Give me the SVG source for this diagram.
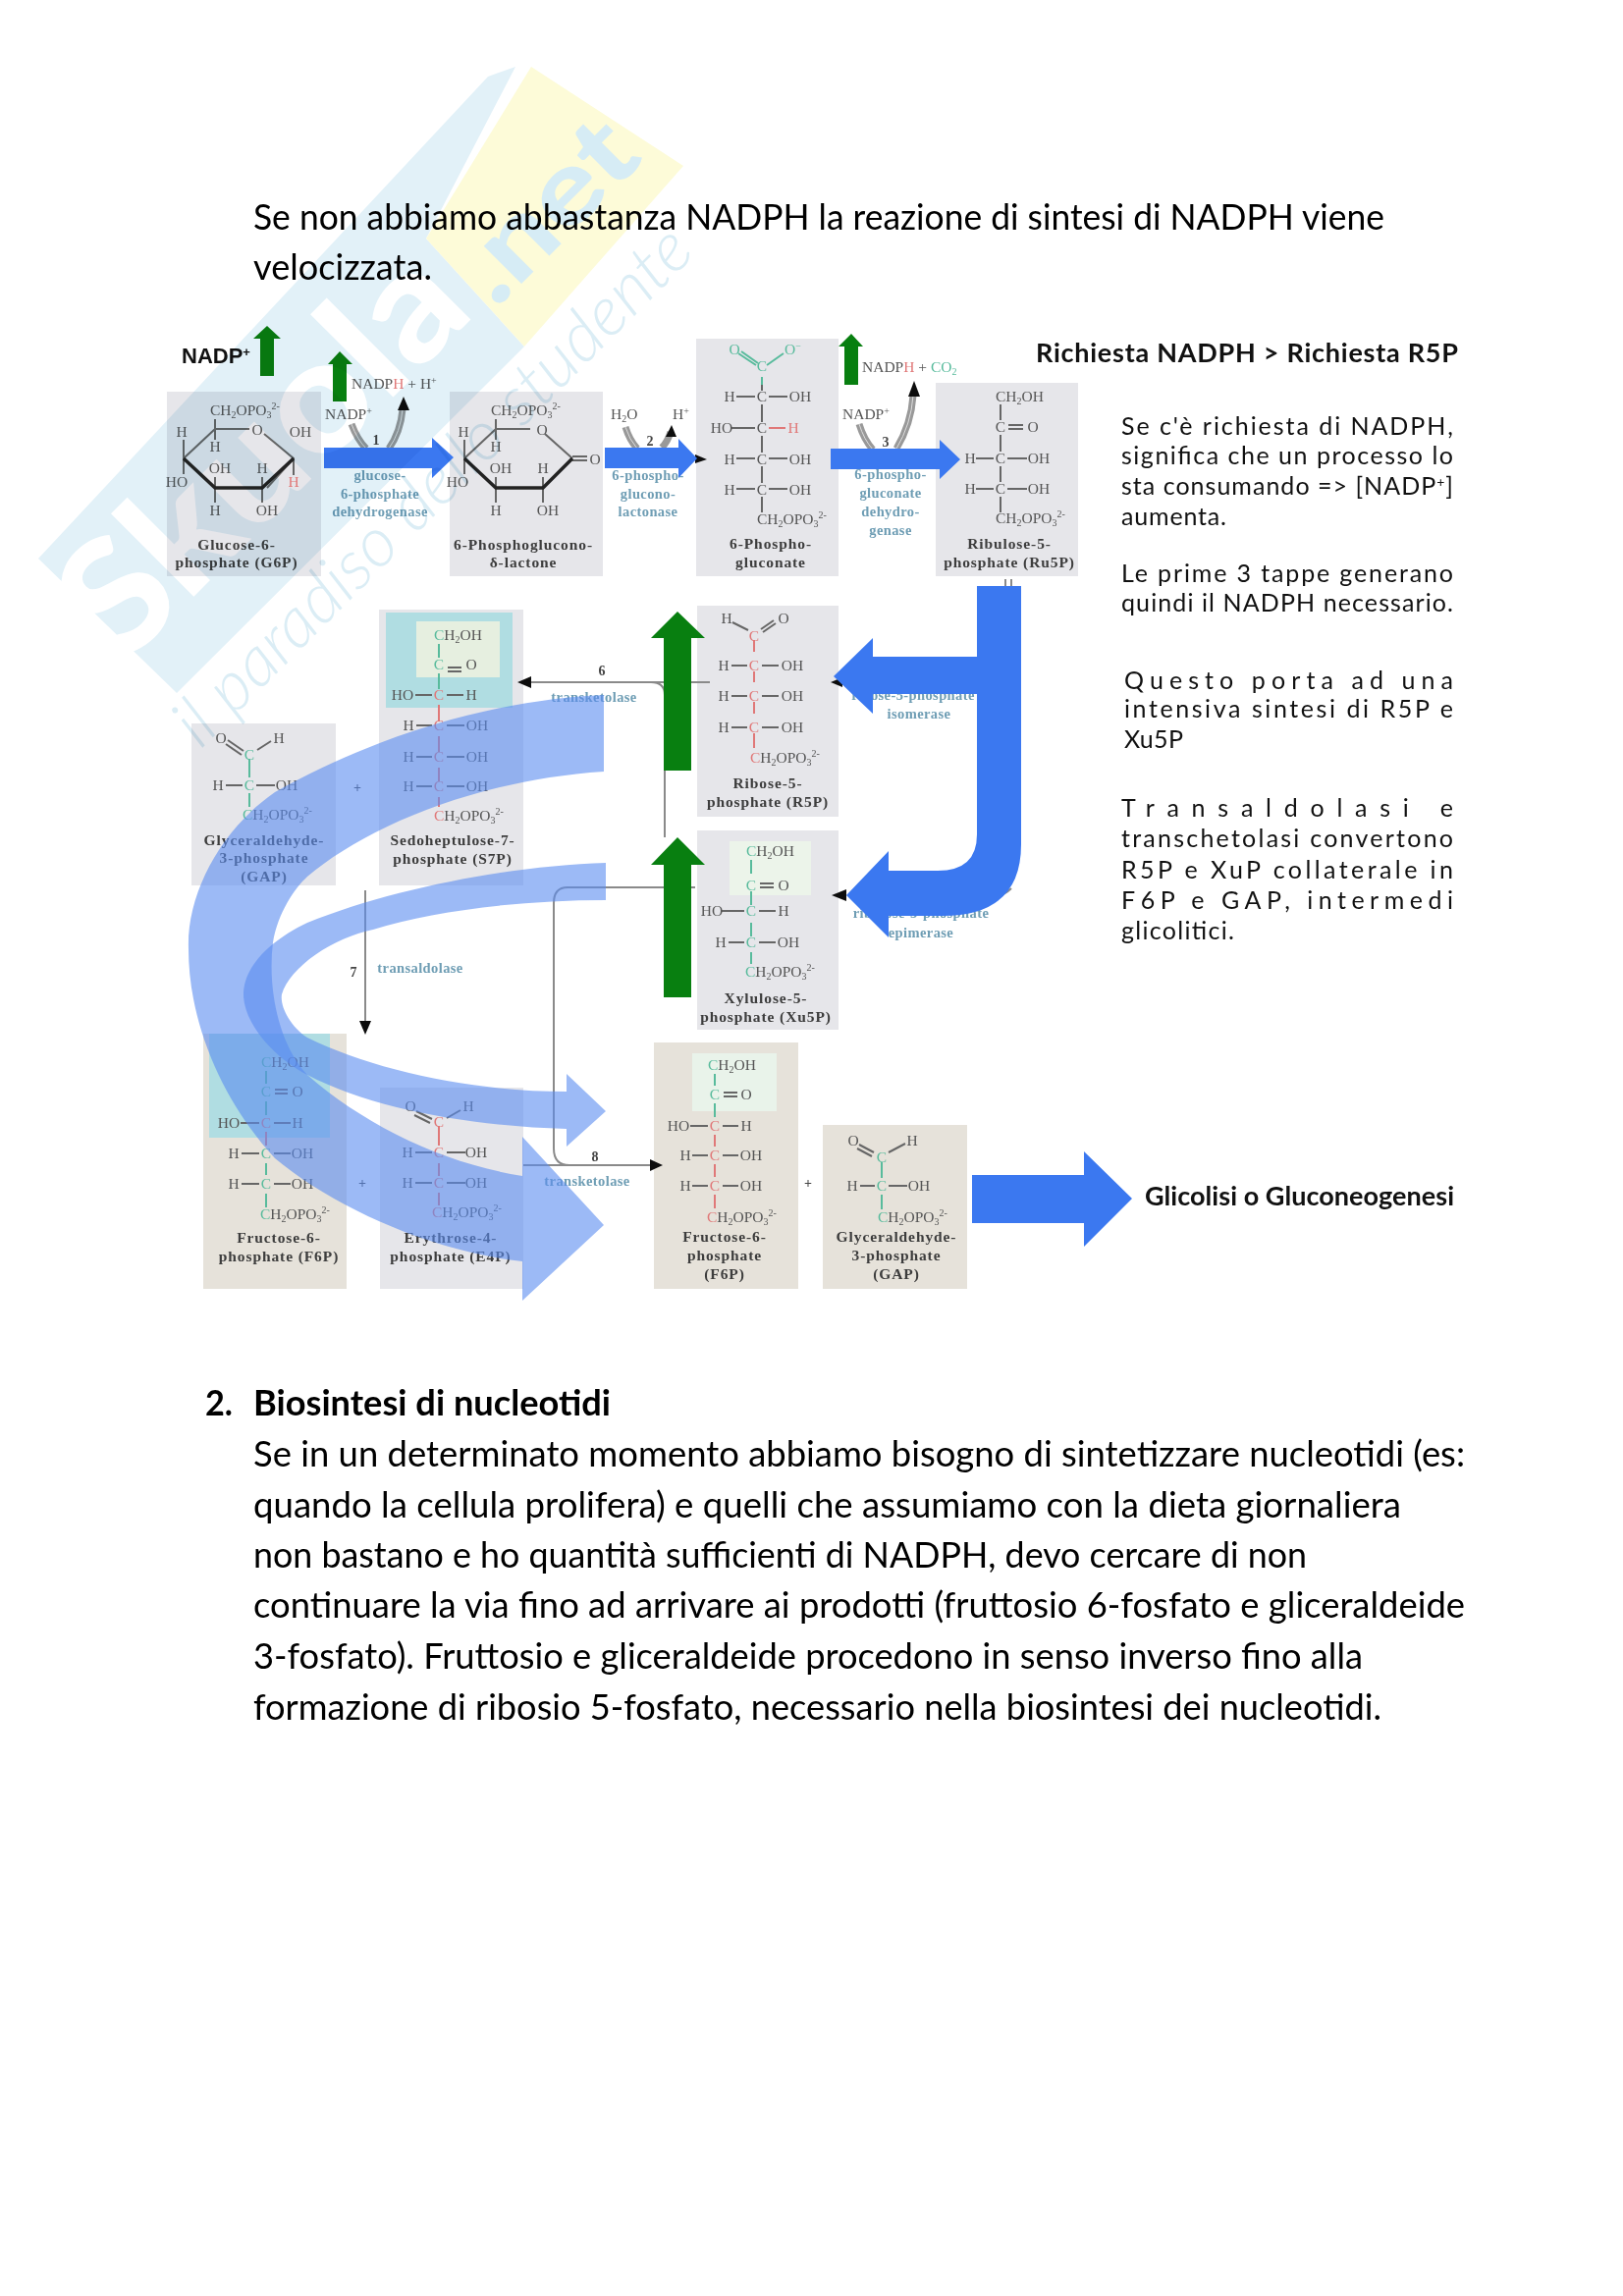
<svg xmlns="http://www.w3.org/2000/svg" width="1653" height="2339" viewBox="0 0 1653 2339">
<style>
text{font-family:"Liberation Serif",serif;fill:#555;font-size:15.5px}
.m{text-anchor:middle}
.n{text-anchor:middle;font-weight:700;fill:#3c3c3c;font-size:15.5px;letter-spacing:.9px}
.e{text-anchor:middle;fill:#6e9db4;font-size:14.5px;letter-spacing:.4px;font-weight:700}
.r{fill:#e07878}.g{fill:#58bb9c}
.num{text-anchor:middle;font-weight:700;fill:#444;font-size:14px}
.b{font-family:Lato,sans-serif;font-size:36px;fill:#000}
.bb{font-weight:700}
.t{font-family:Lato,"DejaVu Sans",sans-serif;font-size:25px;fill:#111}
.th{font-family:Lato,"DejaVu Sans",sans-serif;font-size:27px;font-weight:700;fill:#111}
.s{font-size:10px}
.box{fill:#e6e6ea}.bg{fill:#e6e2da}
.k{stroke:#666;stroke-width:2;fill:none}
.kg{stroke:#58bb9c;stroke-width:2;fill:none}
.kr{stroke:#e07878;stroke-width:2;fill:none}
.blue{fill:#3b78f0}
.green{fill:#087f10}
.arc{fill:#5a8cf0;fill-opacity:.6}
.ln{stroke:#8a8a8a;stroke-width:2;fill:none}
.tip{fill:#111}
.hat{stroke:#999;stroke-width:7;fill:none}
.hat2{stroke:#ddd;stroke-width:1;fill:none}
</style>
<defs><filter id="bl" x="-5%" y="-5%" width="110%" height="110%"><feGaussianBlur stdDeviation=".45"/></filter></defs>
<rect width="1653" height="2339" fill="#fff"/>

<g id="chem" filter="url(#bl)">
<g id="G6P">
<rect class="box" x="170" y="399" width="157" height="188"/>
<text x="214" y="423">CH<tspan class="s" dy="3">2</tspan><tspan dy="-3">OPO</tspan><tspan class="s" dy="3">3</tspan><tspan class="s" dy="-9">2-</tspan></text>
<path class="k" d="M219 427V437H254M269 442L299 467V484M299 467L272 497M219 437L187 467V483M187 467V448M219 437V448M219 497V512M267 497V512M267 486V497M219 486V497"/>
<path d="M187 467L219 497H267L299 467" stroke="#222" stroke-width="3.5" fill="none"/>
<text class="m" x="185" y="445">H</text><text class="m" x="219" y="460">H</text><text class="m" x="262" y="443">O</text><text class="m" x="306" y="445">OH</text>
<text class="m" x="224" y="482">OH</text><text class="m" x="267" y="482">H</text><text class="m" x="180" y="496">HO</text><text class="m r" x="299" y="496">H</text>
<text class="m" x="219" y="525">H</text><text class="m" x="272" y="525">OH</text>
<text class="n" x="241" y="560">Glucose-6-</text><text class="n" x="241" y="578">phosphate (G6P)</text>
</g>
<g id="lactone">
<rect class="box" x="458" y="399" width="156" height="188"/>
<text x="500" y="423">CH<tspan class="s" dy="3">2</tspan><tspan dy="-3">OPO</tspan><tspan class="s" dy="3">3</tspan><tspan class="s" dy="-9">2-</tspan></text>
<path class="k" d="M505 427V437H540M555 442L583 467M505 437L473 467V483M473 467V448M505 437V448M505 497V512M553 497V512M553 486V497M505 486V497M583 465H598M583 469H598"/>
<path d="M473 467L505 497H553L583 467" stroke="#222" stroke-width="3.5" fill="none"/>
<text class="m" x="472" y="445">H</text><text class="m" x="505" y="460">H</text><text class="m" x="552" y="443">O</text><text class="m" x="606" y="473">O</text>
<text class="m" x="510" y="482">OH</text><text class="m" x="553" y="482">H</text><text class="m" x="466" y="496">HO</text>
<text class="m" x="505" y="525">H</text><text class="m" x="558" y="525">OH</text>
<text class="n" x="533" y="560">6-Phosphoglucono-</text><text class="n" x="533" y="578">δ-lactone</text>
</g>
<g id="PG6">
<rect class="box" x="709" y="345" width="145" height="242"/>
<path class="kg" d="M776 384V392M752 360L770 372M781 372L798 360M755 358L772 370"/>
<path class="k" d="M776 392V398M776 412V430M776 444V461M776 475V492M776 506V522M750 404H769M783 404H802M745 436H769M750 467H769M783 467H802M750 498H769M783 498H802"/>
<path class="kr" d="M783 436H800"/>
<text class="m g" x="748" y="361">O</text><text class="g" x="799" y="361">O<tspan class="s" dy="-5">−</tspan></text><text class="m g" x="776" y="378">C</text>
<text class="m" x="743" y="409">H</text><text class="m" x="776" y="409">C</text><text class="m" x="815" y="409">OH</text>
<text class="m" x="735" y="441">HO</text><text class="m" x="776" y="441">C</text><text class="m r" x="808" y="441">H</text>
<text class="m" x="743" y="473">H</text><text class="m" x="776" y="473">C</text><text class="m" x="815" y="473">OH</text>
<text class="m" x="743" y="504">H</text><text class="m" x="776" y="504">C</text><text class="m" x="815" y="504">OH</text>
<text x="771" y="534">CH<tspan class="s" dy="3">2</tspan><tspan dy="-3">OPO</tspan><tspan class="s" dy="3">3</tspan><tspan class="s" dy="-9">2-</tspan></text>
<text class="n" x="785" y="559">6-Phospho-</text><text class="n" x="785" y="578">gluconate</text>
</g>
<g id="Ru5P">
<rect class="box" x="953" y="390" width="145" height="197"/>
<path class="k" d="M1019 412V428M1019 443V460M1019 475V491M1019 506V522M1027 433H1042M1027 437H1042M994 467H1012M1026 467H1046M994 498H1012M1026 498H1046"/>
<text x="1014" y="409">CH<tspan class="s" dy="3">2</tspan><tspan dy="-3">OH</tspan></text>
<text class="m" x="1019" y="440">C</text><text class="m" x="1052" y="440">O</text>
<text class="m" x="988" y="472">H</text><text class="m" x="1019" y="472">C</text><text class="m" x="1058" y="472">OH</text>
<text class="m" x="988" y="503">H</text><text class="m" x="1019" y="503">C</text><text class="m" x="1058" y="503">OH</text>
<text x="1014" y="533">CH<tspan class="s" dy="3">2</tspan><tspan dy="-3">OPO</tspan><tspan class="s" dy="3">3</tspan><tspan class="s" dy="-9">2-</tspan></text>
<text class="n" x="1028" y="559">Ribulose-5-</text><text class="n" x="1028" y="578">phosphate (Ru5P)</text>
</g>
<g id="R5P">
<rect class="box" x="710" y="617" width="144" height="215"/>
<path class="k" d="M746 634L762 642M775 641L788 632M777 644L790 635M745 678H761M776 678H793M745 709H761M776 709H793M745 741H761M776 741H793"/>
<path class="kr" d="M768 652V664M768 684V695M768 715V727M768 747V762"/>
<text class="m" x="740" y="635">H</text><text class="m" x="798" y="635">O</text><text class="m r" x="768" y="653">C</text>
<text class="m" x="737" y="683">H</text><text class="m r" x="768" y="683">C</text><text class="m" x="807" y="683">OH</text>
<text class="m" x="737" y="714">H</text><text class="m r" x="768" y="714">C</text><text class="m" x="807" y="714">OH</text>
<text class="m" x="737" y="746">H</text><text class="m r" x="768" y="746">C</text><text class="m" x="807" y="746">OH</text>
<text x="764" y="777"><tspan class="r">C</tspan>H<tspan class="s" dy="3">2</tspan><tspan dy="-3">OPO</tspan><tspan class="s" dy="3">3</tspan><tspan class="s" dy="-9">2-</tspan></text>
<text class="n" x="782" y="803">Ribose-5-</text><text class="n" x="782" y="822">phosphate (R5P)</text>
</g>
<g id="Xu5P">
<rect class="box" x="710" y="846" width="144" height="203"/>
<rect x="743" y="857" width="83" height="55" fill="#ecf4ea"/>
<path class="kg" d="M765 876V890M765 908V922M765 940V954M765 970V982"/>
<path class="k" d="M774 900H788M774 904H788M735 928H758M773 928H790M742 960H758M773 960H790"/>
<text x="760" y="872"><tspan class="g">C</tspan>H<tspan class="s" dy="3">2</tspan><tspan dy="-3">OH</tspan></text>
<text class="m g" x="765" y="907">C</text><text class="m" x="798" y="907">O</text>
<text class="m" x="725" y="933">HO</text><text class="m g" x="765" y="933">C</text><text class="m" x="798" y="933">H</text>
<text class="m" x="734" y="965">H</text><text class="m g" x="765" y="965">C</text><text class="m" x="803" y="965">OH</text>
<text x="759" y="995"><tspan class="g">C</tspan>H<tspan class="s" dy="3">2</tspan><tspan dy="-3">OPO</tspan><tspan class="s" dy="3">3</tspan><tspan class="s" dy="-9">2-</tspan></text>
<text class="n" x="780" y="1022">Xylulose-5-</text><text class="n" x="780" y="1041">phosphate (Xu5P)</text>
</g>
<g id="S7P">
<rect class="box" x="386" y="621" width="147" height="281"/>
<rect x="393" y="624" width="129" height="97" fill="#b0dde2"/>
<rect x="424" y="633" width="85" height="57" fill="#e6efe0"/>
<path class="kg" d="M447 656V670M447 686V702"/>
<path class="kr" d="M447 718V735M447 750V766M447 782V796M447 812V822"/>
<path class="k" d="M456 680H470M456 684H470M423 708H440M455 708H472M424 739H440M455 739H473M424 771H440M455 771H473M424 801H440M455 801H473"/>
<text x="442" y="652"><tspan class="g">C</tspan>H<tspan class="s" dy="3">2</tspan><tspan dy="-3">OH</tspan></text>
<text class="m g" x="447" y="682">C</text><text class="m" x="480" y="682">O</text>
<text class="m" x="410" y="713">HO</text><text class="m r" x="447" y="713">C</text><text class="m" x="480" y="713">H</text>
<text class="m" x="416" y="744">H</text><text class="m r" x="447" y="744">C</text><text class="m" x="486" y="744">OH</text>
<text class="m" x="416" y="776">H</text><text class="m r" x="447" y="776">C</text><text class="m" x="486" y="776">OH</text>
<text class="m" x="416" y="806">H</text><text class="m r" x="447" y="806">C</text><text class="m" x="486" y="806">OH</text>
<text x="442" y="836"><tspan class="r">C</tspan>H<tspan class="s" dy="3">2</tspan><tspan dy="-3">OPO</tspan><tspan class="s" dy="3">3</tspan><tspan class="s" dy="-9">2-</tspan></text>
<text class="n" x="461" y="861">Sedoheptulose-7-</text><text class="n" x="461" y="880">phosphate (S7P)</text>
</g>
<g id="GAP-top">
<rect class="box" x="195" y="737" width="147" height="165"/>
<path class="kg" d="M254 773V792M254 808V822"/>
<path class="k" d="M232 754L248 765M230 758L246 769M262 764L276 755M230 800H247M261 800H280"/>
<text class="m" x="225" y="757">O</text><text class="m" x="284" y="757">H</text><text class="m g" x="254" y="774">C</text>
<text class="m" x="222" y="805">H</text><text class="m g" x="254" y="805">C</text><text class="m" x="292" y="805">OH</text>
<text x="247" y="835"><tspan class="g">C</tspan>H<tspan class="s" dy="3">2</tspan><tspan dy="-3">OPO</tspan><tspan class="s" dy="3">3</tspan><tspan class="s" dy="-9">2-</tspan></text>
<text class="n" x="269" y="861">Glyceraldehyde-</text><text class="n" x="269" y="879">3-phosphate</text><text class="n" x="269" y="898">(GAP)</text>
</g>
<g id="F6P-left">
<rect class="bg" x="207" y="1053" width="146" height="260"/>
<rect x="213" y="1053" width="123" height="106" fill="#b0dde2"/>
<path class="kg" d="M271 1091V1104M271 1122V1136M271 1185V1197M271 1216V1230"/>
<path class="kr" d="M271 1153V1167"/>
<path class="k" d="M280 1110H293M280 1114H293M245 1144H264M279 1144H296M246 1175H264M279 1175H296M246 1206H264M279 1206H296"/>
<text x="266" y="1087"><tspan class="g">C</tspan>H<tspan class="s" dy="3">2</tspan><tspan dy="-3">OH</tspan></text>
<text class="m g" x="271" y="1117">C</text><text class="m" x="303" y="1117">O</text>
<text class="m" x="233" y="1149">HO</text><text class="m r" x="271" y="1149">C</text><text class="m" x="303" y="1149">H</text>
<text class="m" x="238" y="1180">H</text><text class="m g" x="271" y="1180">C</text><text class="m" x="308" y="1180">OH</text>
<text class="m" x="238" y="1211">H</text><text class="m g" x="271" y="1211">C</text><text class="m" x="308" y="1211">OH</text>
<text x="265" y="1242"><tspan class="g">C</tspan>H<tspan class="s" dy="3">2</tspan><tspan dy="-3">OPO</tspan><tspan class="s" dy="3">3</tspan><tspan class="s" dy="-9">2-</tspan></text>
<text class="n" x="284" y="1266">Fructose-6-</text><text class="n" x="284" y="1285">phosphate (F6P)</text>
</g>
<g id="E4P">
<rect class="box" x="387" y="1108" width="146" height="205"/>
<path class="kr" d="M447 1147V1167M447 1185V1198M447 1215V1228"/>
<path class="k" d="M424 1132L440 1140M422 1136L438 1144M455 1139L469 1131M423 1174H440M455 1174H474M423 1205H440M455 1205H474"/>
<text class="m" x="418" y="1132">O</text><text class="m" x="477" y="1132">H</text><text class="m r" x="447" y="1148">C</text>
<text class="m" x="415" y="1179">H</text><text class="m r" x="447" y="1179">C</text><text class="m" x="485" y="1179">OH</text>
<text class="m" x="415" y="1210">H</text><text class="m r" x="447" y="1210">C</text><text class="m" x="485" y="1210">OH</text>
<text x="440" y="1240"><tspan class="r">C</tspan>H<tspan class="s" dy="3">2</tspan><tspan dy="-3">OPO</tspan><tspan class="s" dy="3">3</tspan><tspan class="s" dy="-9">2-</tspan></text>
<text class="n" x="459" y="1266">Erythrose-4-</text><text class="n" x="459" y="1285">phosphate (E4P)</text>
</g>
<g id="F6P-right">
<rect class="bg" x="666" y="1062" width="147" height="251"/>
<rect x="705" y="1073" width="86" height="59" fill="#e9f3ea"/>
<path class="kg" d="M728 1094V1106M728 1124V1138"/>
<path class="kr" d="M728 1156V1168M728 1186V1199M728 1217V1231"/>
<path class="k" d="M737 1113H751M737 1117H751M703 1147H721M736 1147H752M705 1177H721M736 1177H752M705 1208H721M736 1208H752"/>
<text x="721" y="1090"><tspan class="g">C</tspan>H<tspan class="s" dy="3">2</tspan><tspan dy="-3">OH</tspan></text>
<text class="m g" x="728" y="1120">C</text><text class="m" x="760" y="1120">O</text>
<text class="m" x="691" y="1152">HO</text><text class="m r" x="728" y="1152">C</text><text class="m" x="760" y="1152">H</text>
<text class="m" x="698" y="1182">H</text><text class="m r" x="728" y="1182">C</text><text class="m" x="765" y="1182">OH</text>
<text class="m" x="698" y="1213">H</text><text class="m r" x="728" y="1213">C</text><text class="m" x="765" y="1213">OH</text>
<text x="720" y="1245"><tspan class="r">C</tspan>H<tspan class="s" dy="3">2</tspan><tspan dy="-3">OPO</tspan><tspan class="s" dy="3">3</tspan><tspan class="s" dy="-9">2-</tspan></text>
<text class="n" x="738" y="1265">Fructose-6-</text><text class="n" x="738" y="1284">phosphate</text><text class="n" x="738" y="1303">(F6P)</text>
</g>
<g id="GAP-right">
<rect class="bg" x="838" y="1146" width="147" height="167"/>
<path class="kg" d="M898 1184V1200M898 1217V1232"/>
<path class="k" d="M875 1166L890 1174M873 1170L888 1178M905 1174L922 1165M876 1208H891M905 1208H924"/>
<text class="m" x="869" y="1167">O</text><text class="m" x="929" y="1167">H</text><text class="m g" x="898" y="1184">C</text>
<text class="m" x="868" y="1213">H</text><text class="m g" x="898" y="1213">C</text><text class="m" x="936" y="1213">OH</text>
<text x="894" y="1245"><tspan class="g">C</tspan>H<tspan class="s" dy="3">2</tspan><tspan dy="-3">OPO</tspan><tspan class="s" dy="3">3</tspan><tspan class="s" dy="-9">2-</tspan></text>
<text class="n" x="913" y="1265">Glyceraldehyde-</text><text class="n" x="913" y="1284">3-phosphate</text><text class="n" x="913" y="1303">(GAP)</text>
</g>
<g id="enzymes">
<text class="e" x="387" y="489">glucose-</text><text class="e" x="387" y="508">6-phosphate</text><text class="e" x="387" y="526">dehydrogenase</text>
<text class="e" x="660" y="489">6-phospho-</text><text class="e" x="660" y="508">glucono-</text><text class="e" x="660" y="526">lactonase</text>
<text class="e" x="907" y="488">6-phospho-</text><text class="e" x="907" y="507">gluconate</text><text class="e" x="907" y="526">dehydro-</text><text class="e" x="907" y="545">genase</text>
<text class="e" x="930" y="713">ribose-5-phosphate</text><text class="e" x="936" y="732">isomerase</text>
<text class="e" x="938" y="935">ribulose-5-phosphate</text><text class="e" x="938" y="955">epimerase</text>
<text class="e" x="605" y="715">transketolase</text><text class="e" x="428" y="991">transaldolase</text><text class="e" x="598" y="1208">transketolase</text>
<text class="num" x="613" y="688">6</text><text class="num" x="360" y="995">7</text><text class="num" x="606" y="1183">8</text>
<text class="num" x="364" y="807">+</text><text class="num" x="369" y="1210">+</text><text class="num" x="823" y="1210">+</text>
<text class="num" x="383" y="453">1</text><text class="num" x="662" y="454">2</text><text class="num" x="902" y="455">3</text>
</g>
<g id="cofactors">
<text x="358" y="396">NADP<tspan class="r">H</tspan> + H<tspan class="s" dy="-5">+</tspan></text>
<text x="331" y="427">NADP<tspan class="s" dy="-5">+</tspan></text>
<text x="622" y="427">H<tspan class="s" dy="3">2</tspan><tspan dy="-3">O</tspan></text>
<text x="685" y="427">H<tspan class="s" dy="-5">+</tspan></text>
<text x="858" y="427">NADP<tspan class="s" dy="-5">+</tspan></text>
<text x="878" y="379">NADP<tspan class="r">H</tspan> + <tspan class="g">CO</tspan><tspan class="s g" dy="3">2</tspan></text>
</g>
</g>

<g id="connectors" filter="url(#bl)">
<path class="hat" d="M358 432Q364 448 373 457M396 457Q408 440 410 417"/>
<path class="hat" d="M637 435Q641 448 649 457M674 456Q680 450 683 440"/>
<path class="hat" d="M875 432Q880 448 889 458M913 457Q928 432 930 403"/>
<path class="hat2" d="M358 432Q364 448 373 457M396 457Q408 440 410 417M637 435Q641 448 649 457M875 432Q880 448 889 458M913 457Q928 432 930 403"/>
<path class="tip" d="M411 404L417 418H405ZM684 433L689 445H678ZM931 388L937 404H925ZM708 463L720 468L708 472ZM846 695L858 690V700ZM847 912L862 906V918Z"/>
<path class="ln" d="M723 695H663Q677 695 677 708V853M540 695H663"/>
<path class="ln" d="M708 904H578Q564 904 564 920V1170Q564 1187 580 1187H662M533 1187H580"/>
<path class="ln" d="M372 907V1042"/>
<path class="ln" d="M1024 590V597M1030 590V597"/>
<path class="tip" d="M527 695L541 689V701ZM372 1054L366 1040H378ZM675 1187L662 1181V1193Z"/>
<path class="ln" d="M1030 905Q1020 915 1000 916"/>
</g>

<g id="arrows-blue">
<path class="blue" d="M330 456H440V446L462 466L440 487V477H330Z"/>
<path class="blue" d="M616 456H691V447L710 467L691 487V477H616Z"/>
<path class="blue" d="M846 457H957V448L978 468L957 488V478H846Z"/>
<path class="blue" d="M995 597H1040V860Q1040 933 960 933H905V955L862 912L905 867V887H955Q995 887 995 850V707H889V727L849 689L889 650V669H995Z"/>
<path class="blue" d="M990 1197H1104V1173L1153 1221L1104 1270V1246H990Z"/>
</g>
<g id="arcs">
<path class="arc" d="M615 708C520 712 400 740 280 807C225 845 190 910 192 967C192 1040 225 1120 280 1180C340 1230 440 1275 532 1285V1325L615 1248L532 1158V1198C450 1185 370 1145 313 1095C285 1065 272 1010 278 960C283 930 300 905 313 893C370 845 480 795 615 786Z"/>
<path class="arc" d="M617 879C520 882 400 905 313 940C275 958 248 985 248 1013C248 1040 275 1075 313 1095C380 1130 480 1147 577 1150V1168L617 1132L577 1094V1112C480 1112 380 1090 313 1057C295 1045 285 1025 287 1013C295 985 340 955 380 947C440 928 530 917 617 917Z"/>
</g>
<g id="arrows-green">
<path class="green" d="M265 383V345H258L272 332L286 345H279V383Z"/>
<path class="green" d="M339 409V371H334L346 358L359 371H353V409Z"/>
<path class="green" d="M860 392V353H854L867 340L879 353H874V392Z"/>
<path class="green" d="M676 785V650H663L690 623L718 650H704V785Z"/>
<path class="green" d="M676 1016V881H663L690 853L718 881H704V1016Z"/>
</g>

<g id="labels">
<text x="185" y="370" style="font-family:'Liberation Sans',sans-serif;font-weight:700;font-size:22px;fill:#111">NADP<tspan font-size="13" dy="-7">+</tspan></text>
<text class="th" x="1055" y="369" textLength="430">Richiesta NADPH &gt; Richiesta R5P</text>
<text class="th" x="1166" y="1228" textLength="315">Glicolisi o Gluconeogenesi</text>
<text class="t" x="1142" y="443" textLength="338">Se c'è richiesta di NADPH,</text>
<text class="t" x="1142" y="473" textLength="338">significa che un processo lo</text>
<text class="t" x="1142" y="504" textLength="338">sta consumando =&gt; [NADP<tspan font-size="14" dy="-8">+</tspan><tspan dy="8">]</tspan></text>
<text class="t" x="1142" y="535" textLength="107">aumenta.</text>
<text class="t" x="1142" y="593" textLength="338">Le prime 3 tappe generano</text>
<text class="t" x="1142" y="623" textLength="338">quindi il NADPH necessario.</text>
<text class="t" x="1145" y="702" textLength="335">Questo porta ad una</text>
<text class="t" x="1145" y="731" textLength="335">intensiva sintesi di R5P e</text>
<text class="t" x="1145" y="762" textLength="60">Xu5P</text>
<text class="t" x="1142" y="832" textLength="338">Transaldolasi e</text>
<text class="t" x="1142" y="863" textLength="338">transchetolasi convertono</text>
<text class="t" x="1142" y="895" textLength="338">R5P e XuP collaterale in</text>
<text class="t" x="1142" y="926" textLength="338">F6P e GAP, intermedi</text>
<text class="t" x="1142" y="957" textLength="115">glicolitici.</text>
</g>

<g id="body">
<text class="b" x="258" y="234" textLength="1152" lengthAdjust="spacingAndGlyphs">Se non abbiamo abbastanza NADPH la reazione di sintesi di NADPH viene</text>
<text class="b" x="258" y="285" textLength="182" lengthAdjust="spacingAndGlyphs">velocizzata.</text>
<text class="b bb" x="209" y="1442" textLength="28" lengthAdjust="spacingAndGlyphs">2.</text>
<text class="b bb" x="258" y="1442" textLength="364" lengthAdjust="spacingAndGlyphs">Biosintesi di nucleotidi</text>
<text class="b" x="258" y="1494" textLength="1234" lengthAdjust="spacingAndGlyphs">Se in un determinato momento abbiamo bisogno di sintetizzare nucleotidi (es:</text>
<text class="b" x="258" y="1546" textLength="1169" lengthAdjust="spacingAndGlyphs">quando la cellula prolifera) e quelli che assumiamo con la dieta giornaliera</text>
<text class="b" x="258" y="1597" textLength="1073" lengthAdjust="spacingAndGlyphs">non bastano e ho quantità sufficienti di NADPH, devo cercare di non</text>
<text class="b" x="258" y="1648" textLength="1234" lengthAdjust="spacingAndGlyphs">continuare la via fino ad arrivare ai prodotti (fruttosio 6-fosfato e gliceraldeide</text>
<text class="b" x="258" y="1700" textLength="1130" lengthAdjust="spacingAndGlyphs">3-fosfato). Fruttosio e gliceraldeide procedono in senso inverso fino alla</text>
<text class="b" x="258" y="1752" textLength="1149" lengthAdjust="spacingAndGlyphs">formazione di ribosio 5-fosfato, necessario nella biosintesi dei nucleotidi.</text>
</g>

<g id="watermark" style="mix-blend-mode:multiply">
<path fill="#e2f1f8" d="M39 569L497 78L525 68L434 243L534 353L180 706Z"/>
<path fill="#fdfbd8" d="M541 68L696 169L534 353L434 243Z"/>
<text transform="translate(125 680) rotate(-45)" style="font-family:Lato,sans-serif;font-weight:900;font-size:160px;fill:#fff" textLength="510" lengthAdjust="spacingAndGlyphs">Skuola</text>
<text transform="translate(505 315) rotate(-45)" style="font-family:Lato,sans-serif;font-weight:900;font-size:105px;fill:#d6ecf5" textLength="215" lengthAdjust="spacingAndGlyphs">.net</text>
<text transform="translate(204 764) rotate(-45)" style="font-family:Lato,sans-serif;font-style:italic;font-weight:300;font-size:70px;fill:#dbedf5" textLength="715" lengthAdjust="spacingAndGlyphs">il paradiso dello studente</text>
</g>
</svg>
